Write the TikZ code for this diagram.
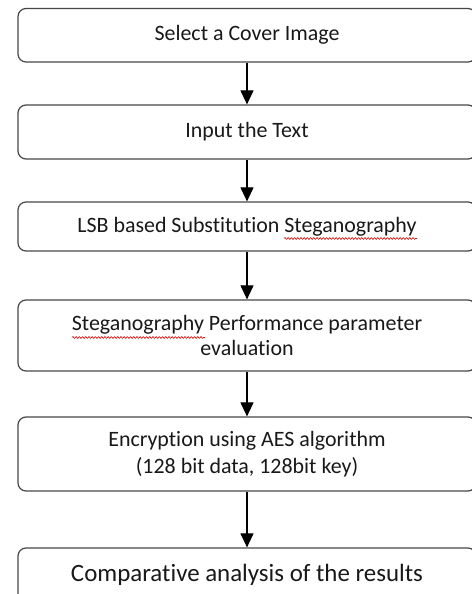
\documentclass[tikz,border=0pt]{standalone}
\usepackage{fontspec}
\setmainfont{Carlito}[Ligatures={NoCommon}]
\usetikzlibrary{arrows.meta,decorations.pathmorphing}
\tikzset{
  stepbox/.style={draw=black!72, line width=1.2bp, rounded corners=8bp,
    minimum width=458bp, inner sep=0pt, align=center, text=black!90,
    font=\fontsize{22}{25}\selectfont},
  flow/.style={draw=black, line width=1.1bp, -{Triangle[width=13bp,length=14bp]}},
  spell/.style={draw=red!85!black, line width=0.6bp, decorate,
    decoration={snake, amplitude=0.9bp, segment length=3.2bp}}
}
\begin{document}
\begin{tikzpicture}[x=1bp,y=-1bp]
\useasboundingbox (0,0) rectangle (472,594);
\fill[white] (0,0) rectangle (472,594);
\clip (0,0) rectangle (472,594);
\node[stepbox, minimum height=53.5bp] (b1) at (247,35.25) {Select a Cover Image};
\node[stepbox, minimum height=54bp] (b2) at (247,132) {Input the Text};
\node[stepbox, minimum height=49bp] (b3) at (247,226.5) {LSB based Substitution Steganography};
\node[stepbox, minimum height=71bp] (b4) at (247,335.5) {Steganography Performance parameter\\evaluation};
\node[stepbox, minimum height=74bp, font=\fontsize{22}{27}\selectfont] (b5) at (247,454) {Encryption using AES algorithm\\(128 bit data, 128bit key)};
\node[stepbox, minimum height=54bp, font=\fontsize{25}{28}\selectfont] (b6) at (247,575) {Comparative analysis of the results};
\draw[flow] (b1) -- (b2);
\draw[flow] (b2) -- (b3);
\draw[flow] (b3) -- (b4);
\draw[flow] (b4) -- (b5);
\draw[flow] (b5) -- (b6);
\draw[spell] (284,238.5) -- (417,238.5);
\draw[spell] (72,337.5) -- (205,337.5);
\end{tikzpicture}
\end{document}
